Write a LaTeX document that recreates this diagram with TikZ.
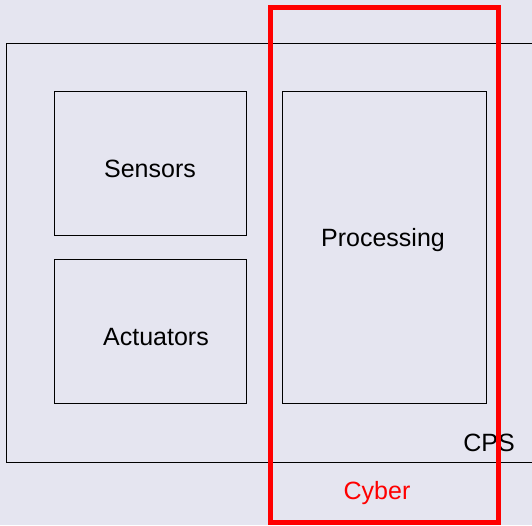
\documentclass[tikz,border=0pt]{standalone}
\usepackage{fontspec}
\setmainfont{Liberation Sans}
\definecolor{bgcol}{HTML}{E5E5F0}
\begin{document}
\begin{tikzpicture}[x=1pt,y=-1pt,
  box/.style={draw=black,line width=0.9pt,inner sep=0pt,outer sep=0pt,anchor=north west},
  lbl/.style={inner sep=0pt,anchor=base,font=\fontsize{25}{30}\selectfont},
  redframe/.style={draw=red,line width=5pt,inner sep=0pt,outer sep=0pt,anchor=north west}]
  \clip (0,0) rectangle (532,525);
  \fill[bgcol] (0,0) rectangle (532,525);
  % outer CPS system boundary (runs off the right edge)
  \node[box,minimum width=540pt,minimum height=419.5pt] (cps) at (6.5,43.3) {};
  % component boxes
  \node[box,minimum width=192.5pt,minimum height=144pt] (sens) at (54.3,91.5) {};
  \node[box,minimum width=192.5pt,minimum height=144pt] (act) at (54.3,259.3) {};
  \node[box,minimum width=204pt,minimum height=311.8pt] (proc) at (282.7,91.5) {};
  % labels
  \node[lbl] (tsens) at (150,177.5) {Sensors};
  \node[lbl] (tact) at (156,345.5) {Actuators};
  \node[lbl] (tproc) at (383,246.5) {Processing};
  \node[lbl] (tcps) at (489,451.5) {CPS};
  % cyber part highlight
  \node[redframe,minimum width=227.5pt,minimum height=514.5pt] (cyber) at (270.5,7.5) {};
  \node[lbl,text=red] (tcyber) at (377,499.5) {Cyber};
\end{tikzpicture}
\end{document}
